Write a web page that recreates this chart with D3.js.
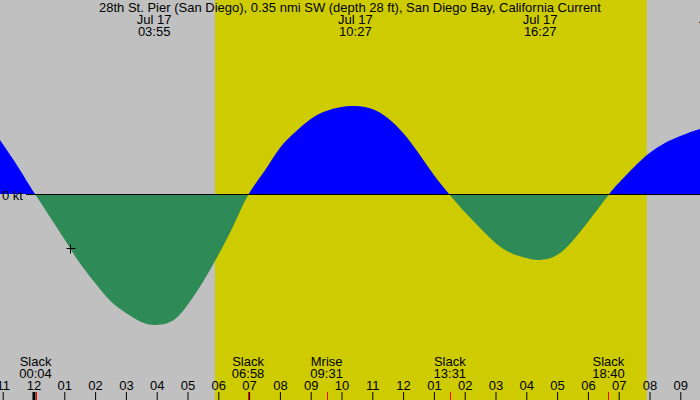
<!DOCTYPE html>
<html>
<head>
<meta charset="utf-8">
<script src="https://cdn.jsdelivr.net/npm/d3@7"></script>
<style>
  body { margin: 0; background: #fff; }
  svg { display: block; font-family: "Liberation Sans", Arial, sans-serif; }
</style>
</head>
<body>
<svg id="chart" width="700" height="400"></svg>
<script>
// current speed (kt), by hour of Jul 17
const curveHours = [-1.09, -0.5, 0.07, 1, 1.5, 2, 2.5, 3, 3.5, 3.92, 4.5, 5, 5.5, 6, 6.5, 6.97,
  7.5, 8, 8.5, 9, 9.5, 10, 10.45, 11, 11.5, 12, 12.5, 13, 13.52,
  14, 14.5, 15, 15.5, 16, 16.45, 17, 17.5, 18, 18.67,
  19, 19.5, 20, 20.5, 21, 21.64, 22.2];
const curveSpeeds = [0.55, 0.28, 0, -0.44, -0.68, -0.88, -1.06, -1.18, -1.27, -1.30, -1.26, -1.10, -0.87, -0.60, -0.30, 0,
  0.24, 0.47, 0.63, 0.76, 0.84, 0.88, 0.89, 0.86, 0.77, 0.62, 0.42, 0.20, 0,
  -0.17, -0.33, -0.48, -0.58, -0.63, -0.65, -0.60, -0.46, -0.27, 0,
  0.12, 0.28, 0.42, 0.52, 0.59, 0.66, 0.69];

// max current times (top labels)
const maxHours = [3.917, 10.45, 16.45, 22.17];
const maxLabels = ["03:55", "10:27", "16:27", "22:10"];
const dateLabel = "Jul 17";

// events along the bottom
const eventHours = [0.067, 6.967, 9.517, 13.517, 18.667];
const eventNames = ["Slack", "Slack", "Mrise", "Slack", "Slack"];
const eventTimes = ["00:04", "06:58", "09:31", "13:31", "18:40"];

// daylight
const sunrise = 5.89;
const sunset = 19.91;

// hour ticks
const tickHours = d3.range(-1, 22);

// "now" marker
const nowHour = 1.185;
const nowSpeed = -0.53;

const title = "28th St. Pier (San Diego), 0.35 nmi SW (depth 28 ft), San Diego Bay, California Current";

/// constants ///
const width = 700, height = 400;
const fontSize = 13;
const nightColour = "#c0c0c0";
const dayColour = "#cecc00";
const floodColour = "#0000ff";
const ebbColour = "#2e8b57";

const svg = d3.select("#chart");

/// scales ///
const x = d3.scaleLinear().domain([-33.5 / 30.8, (700 - 33.5) / 30.8]).range([0, width]);
const y = d3.scaleLinear().domain([-1.6, 1.55]).range([355, 40]);

const pts = curveHours.map((h, i) => ({h: h, v: curveSpeeds[i]}));

// background: night + day band
svg.append("rect").attr("width", width).attr("height", height).attr("fill", nightColour);
svg.append("rect")
  .attr("x", x(sunrise)).attr("y", 0)
  .attr("width", x(sunset) - x(sunrise)).attr("height", height)
  .attr("fill", dayColour);

// zero line
svg.append("line")
  .attr("x1", 26).attr("x2", width)
  .attr("y1", y(0) - 0.5).attr("y2", y(0) - 0.5)
  .attr("stroke", "#000").attr("stroke-width", 1);

// flood (above 0) and ebb (below 0) fills
const area = d3.area()
  .x(d => x(d.h))
  .y0(y(0))
  .y1(d => y(d.v))
  .curve(d3.curveNatural);

svg.append("clipPath").attr("id", "clipPos")
  .append("rect").attr("x", 0).attr("y", 0).attr("width", width).attr("height", y(0) - 1);
svg.append("clipPath").attr("id", "clipNeg")
  .append("rect").attr("x", 0).attr("y", y(0)).attr("width", width).attr("height", height);

svg.append("path").datum(pts).attr("d", area)
  .attr("fill", floodColour).attr("clip-path", "url(#clipPos)");
svg.append("path").datum(pts).attr("d", area)
  .attr("fill", ebbColour).attr("clip-path", "url(#clipNeg)");

// 0 kt label
svg.append("text").attr("x", 2).attr("y", y(0) + 4.5)
  .attr("font-size", fontSize).attr("fill", "#000").text("0 kt");

// title
svg.append("text").attr("x", width / 2).attr("y", 12)
  .attr("text-anchor", "middle").attr("font-size", fontSize).text(title);

// max labels
const maxG = svg.append("g").selectAll("g").data(maxHours).join("g")
  .attr("transform", d => `translate(${x(d)},0)`);
maxG.append("text").attr("y", 24).attr("text-anchor", "middle").attr("font-size", fontSize).text(dateLabel);
maxG.append("text").attr("y", 36).attr("text-anchor", "middle").attr("font-size", fontSize).text((d, i) => maxLabels[i]);

// event labels
const evG = svg.append("g").selectAll("g").data(eventHours).join("g")
  .attr("transform", d => `translate(${x(d)},0)`);
evG.append("text").attr("y", 366).attr("text-anchor", "middle").attr("font-size", fontSize).text((d, i) => eventNames[i]);
evG.append("text").attr("y", 378).attr("text-anchor", "middle").attr("font-size", fontSize).text((d, i) => eventTimes[i]);

// hour axis
const axis = d3.axisBottom(x)
  .tickValues(tickHours)
  .tickSize(8)
  .tickFormat(h => d3.format("02")(((h % 12) + 12) % 12 || 12));
const axisG = svg.append("g").attr("transform", `translate(0,${392})`).call(axis);
axisG.select(".domain").remove();
axisG.selectAll(".tick line").attr("stroke", "#000")
  .attr("stroke-width", d => d === 0 ? 3 : 1);
axisG.selectAll(".tick text")
  .attr("y", -2.5).attr("dy", 0)
  .attr("font-size", fontSize).attr("font-family", "Liberation Sans, Arial, sans-serif").attr("fill", "#000");

// red event ticks
svg.append("g").selectAll("line").data(eventHours).join("line")
  .attr("x1", d => Math.round(x(d)) + 0.5).attr("x2", d => Math.round(x(d)) + 0.5)
  .attr("y1", 392).attr("y2", 400)
  .attr("stroke", "#ff0000").attr("stroke-width", 1);

// now marker
const nx = Math.round(x(nowHour)) + 0.5, ny = Math.round(y(nowSpeed)) + 0.5;
svg.append("path")
  .attr("d", `M${nx - 4},${ny}H${nx + 5}M${nx},${ny - 4}V${ny + 5}`)
  .attr("stroke", "#000").attr("stroke-width", 1).attr("fill", "none");
</script>
</body>
</html>
